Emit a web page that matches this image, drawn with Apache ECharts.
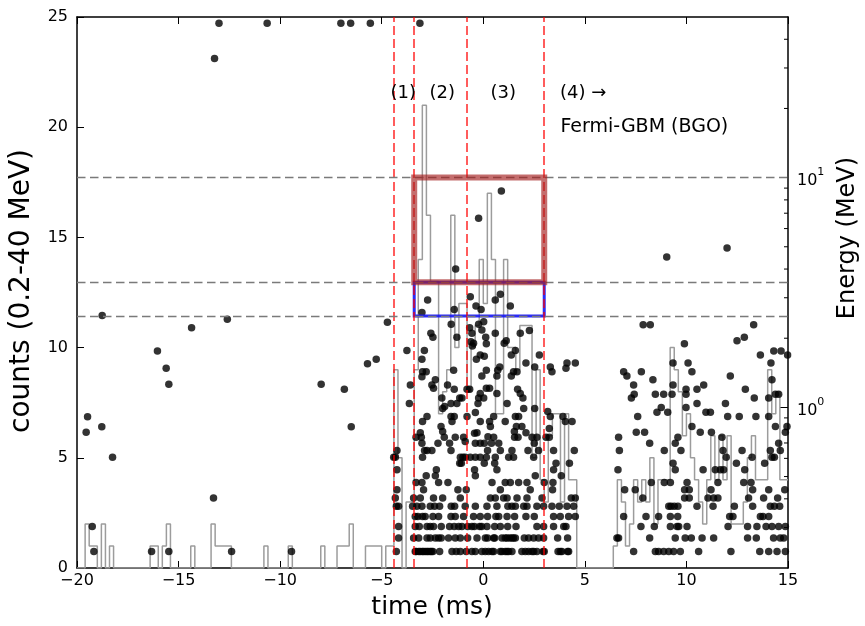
<!DOCTYPE html>
<html><head><meta charset="utf-8">
<script src="https://cdn.jsdelivr.net/npm/echarts/dist/echarts.min.js"></script>
<style>html,body{margin:0;padding:0;background:#fff}#c{width:865px;height:626px}</style>
</head><body><div id="c"></div>
<script>
// ---- data ----
const binStart = -20, binWidth = 0.2;
const histCounts = [
 0,0,2,1,1,0,2,0,1,0,
 0,0,0,0,0,0,0,0,1,1,
 0,1,2,0,0,0,0,0,1,0,
 0,0,0,2,1,1,1,1,0,0,
 0,0,0,0,0,0,1,0,0,0,
 0,0,1,0,0,0,0,0,0,0,
 1,0,0,0,1,1,1,2,0,0,
 0,1,1,1,1,0,1,1,9,5,
 0,3,3,9,14,21,16,13,13,7,
 8,9,16,10,12,12,8,10,11,14,
 12,17,14,7,7,14,10,10,9,11,
 11,11,5,9,4,3,6,7,7,3,
 7,4,4,0,0,0,0,0,0,0,
 0,0,1,4,3,1,2,4,3,4,
 3,5,2,4,4,4,10,9,8,6,
 7,5,4,3,2,4,6,4,6,4,
 6,2,2,2,3,5,6,4,4,4,
 9,7,8,4,4
];
const regionEdges = [-4.4, -3.4, -0.8, 3.0];
const energyLevels = [10, 3.5, 2.5];
const boxTimes = [-3.4, 3.0];
const redBoxEnergy = [3.5, 10];
const blueBoxEnergy = [2.5, 3.5];
const minorTickEnergies = [0.3,0.4,0.5,0.6,0.7,0.8,0.9,2,3,4,5,6,7,8,9,20,30,40];

const labelTexts = ['(1)', '(2)', '(3)', '(4) \u2192', 'Fermi-GBM (BGO)'];
const labelTimes = [-3.94, -2.02, 0.98, 4.92, 7.93];
const labelCounts = [21.55, 21.55, 21.55, 21.55, 20.0];
const labelSizes = [18, 18, 18, 18, 19];

const channelEnergies = [0.236,0.270,0.303,0.335,0.371,0.403,0.438,0.471,0.504,0.535,0.572,0.607,0.649,0.699,0.742];
const channelTimes = [
 [-19.17,-16.33,-15.48,-12.39,-9.44,-4.28,-3.35,-3.30,-3.18,-3.10,-3.0,-2.94,-2.85,-2.77,-2.70,-2.61,-2.55,-2.48,-2.15,-1.54,-1.33,-1.13,-0.84,-0.56,-0.39,-0.07,0.10,0.26,0.43,0.51,0.84,0.92,1.08,1.17,1.25,1.41,1.90,2.07,2.23,2.40,2.48,2.64,2.94,3.0,3.68,3.79,3.87,4.15,4.20,7.40,8.47,8.63,8.88,9.13,9.37,9.70,10.60,12.19,13.61,14.05,14.46,14.87],
 [-4.17,-3.43,-3.18,-2.77,-2.61,-2.36,-2.20,-2.07,-1.71,-1.38,-1.13,-0.77,-0.31,0.10,0.21,0.51,0.56,0.92,1.08,1.17,1.30,1.41,1.49,1.58,2.02,2.23,2.48,2.72,2.97,3.66,4.15,6.58,6.66,8.19,9.45,9.94,10.24,10.77,11.34,13.01,13.44,14.29,14.62,14.79],
 [-19.25,-4.17,-3.35,-3.15,-2.77,-2.61,-2.45,-2.07,-1.66,-1.43,-1.21,-1.05,-0.77,-0.56,-0.44,-0.18,-0.08,0.18,0.56,0.84,1.20,1.61,2.64,2.97,3.46,3.96,4.07,7.76,8.42,9.21,9.54,9.62,10.03,12.05,13.01,13.47,13.92,14.21,14.54,14.87],
 [-3.35,-3.22,-2.99,-2.86,-2.48,-2.20,-1.59,-1.38,-0.97,-0.48,-0.15,0.21,0.62,0.76,1.17,1.54,2.10,2.51,3.46,3.79,4.20,4.53,6.91,8.01,8.63,9.21,9.57,12.13,12.29,13.64,13.77,14.05],
 [-4.28,-4.17,-3.48,-3.27,-3.02,-2.61,-2.40,-2.15,-1.58,-1.41,-0.89,-0.39,0.18,0.67,1.21,1.41,1.58,1.99,2.15,2.64,2.97,3.38,3.74,4.12,4.45,9.13,9.24,9.40,9.58,10.52,11.31,12.36,13.26,14.13,14.33,14.59],
 [-13.28,-4.33,-3.43,-3.10,-2.45,-2.0,-1.13,0.35,0.59,1.0,1.17,1.66,2.15,2.89,4.33,4.53,7.85,9.91,10.14,11.06,11.34,11.55,13.06,13.80,14.49],
 [-4.25,-2.94,-1.25,-0.84,0.84,2.31,3.41,6.96,7.48,9.91,10.14,11.21,13.26,14.05,14.84],
 [-3.31,-3.02,-2.20,-1.74,0.43,1.08,1.33,1.74,2.15,3.0,3.43,8.27,8.91,9.21,10.03,11.55,12.82,13.18],
 [-2.81,-2.36,-0.39,2.56,3.84],
 [-4.25,-2.31,-0.43,0.67,3.46,6.63,9.45,10.82,11.42,11.67,11.83,12.87],
 [-1.16,-1.08,0.05,0.56,3.58,4.24,9.34,12.46,13.85],
 [-18.25,-4.41,-4.33,-2.99,-1.13,-1.0,-0.89,-0.64,-0.39,-0.15,0.15,0.59,1.25,1.49,2.48,11.96,13.23,14.21,14.33],
 [-4.25,-2.89,-2.77,-2.53,-1.59,0.21,0.84,1.41,2.20,2.72,3.46,4.48,6.70,8.91,9.73,11.80,12.74,14.13,14.62],
 [-3.02,-2.23,-1.66,-0.39,-0.15,0.05,0.40,0.76,2.51,8.19,9.45,14.54],
 [-3.31,-3.05,-1.92,-1.38,-0.97,0.51,1.54,1.71,2.40,2.64,3.09,3.25,6.66,9.58,11.75]
];
const otherPoints = [
 [-19.55,0.78],[-19.48,0.91],[-18.76,2.51],[-18.78,0.823],[-16.04,1.76],[-15.61,1.48],[-15.48,1.26],
 [-14.36,2.22],[-12.60,2.42],[-7.98,1.26],[-6.84,1.20],[-6.50,0.823],[-5.70,1.55],[-5.27,1.62],[-4.72,2.35],
 [-13.23,33.0],[-13.01,47],[-10.64,47],[-7.01,47],[-6.53,47],[-5.56,47],[-3.12,47],
 [-3.10,0.776],[2.10,0.776],[1.53,0.785],[-2.0,0.785],[-0.89,0.711],[-0.43,0.772],[-0.31,0.776],[0.23,0.746],
 [-2.77,0.912],[-2.99,0.868],[-2.08,0.826],[-1.59,0.912],[-1.43,0.912],[-1.54,0.868],[-0.80,0.912],[-0.39,0.95],
 [-0.15,0.868],[0.31,0.868],[0.51,0.912],[0.35,0.826],[1.08,0.868],[1.58,0.912],[1.74,0.912],[1.63,0.826],
 [1.90,0.826],[3.30,0.912],[3.92,0.912],[4.04,0.868],[4.37,0.868],[3.17,0.96],[3.25,0.81],
 [-3.64,1.04],[-2.04,1.10],[-1.90,1.01],[-2.0,0.99],[-1.59,1.04],[-1.30,1.04],[-1.16,1.10],[-1.05,1.10],
 [-0.23,1.10],[-0.26,1.04],[0.02,1.10],[1.95,1.10],[1.99,0.99],[1.17,1.04],[2.53,0.99],
 [-3.59,1.25],[-2.36,1.32],[-2.53,1.25],[-2.45,1.21],[-1.76,1.25],[-1.43,1.20],[-0.80,1.20],[-0.67,1.20],
 [0.15,1.21],[0.31,1.21],[-0.15,1.15],[0.67,1.15],[1.69,1.20],[1.82,1.15],
 [-2.99,1.43],[-2.81,1.43],[-3.02,1.36],[-1.46,1.45],[0.15,1.45],[-0.07,1.37],[0.67,1.37],[1.49,1.43],
 [1.66,1.43],[1.38,1.37],[0.71,1.45],[0.81,1.50],[2.53,1.50],[3.30,1.50],[3.38,1.43],[4.07,1.48],[4.12,1.56],
 [4.53,1.56],[2.10,1.56],
 [-3.76,1.77],[-2.90,1.77],[-3.02,1.62],[-0.34,1.62],[-0.15,1.69],[0.05,1.67],[1.58,1.77],[1.38,1.69],[2.76,1.69],
 [-0.61,1.93],[-0.54,1.85],[-0.48,1.90],[0.15,1.89],[1.13,1.95],[1.03,1.90],
 [-2.58,2.10],[-2.48,2.02],[-1.30,2.02],[-0.56,2.10],[-0.07,2.17],[0.12,2.02],[0.59,2.10],[1.82,2.10],[2.27,2.16],
 [0.02,2.36],[-0.23,2.30],[-1.58,2.30],[-0.67,2.22],
 [-3.02,2.59],[-2.74,2.93],[-1.43,2.67],[-0.64,3.03],[-0.36,2.76],[-0.11,2.67],[0.59,2.93],[0.84,3.11],[1.33,2.76],
 [-1.36,4.0],[-0.23,6.65],[0.89,8.74],[9.03,4.51],[12.0,4.94],
 [7.87,2.29],[8.22,2.29],[13.31,2.29],[12.49,1.95],[12.85,2.02],[9.90,1.89],[13.64,1.69],[14.30,1.76],[14.66,1.76],
 [14.98,1.69],[9.34,1.56],[10.08,1.56],[14.16,1.56],[6.91,1.43],[7.07,1.37],[7.78,1.43],[10.27,1.43],[12.16,1.37],
 [14.21,1.32],[8.35,1.32],[7.40,1.25],[9.34,1.25],[10.85,1.25],[10.52,1.20],[9.98,1.20],[12.90,1.20],[7.43,1.14],
 [8.47,1.14],[8.88,1.14],[9.29,1.14],[9.98,1.14],[14.38,1.14],[14.54,1.14],[7.29,1.10],[14.05,1.10],[13.34,1.10],
 [8.76,1.0],[8.55,0.953],[9.08,0.953],[9.98,1.0],[10.52,1.04],[10.96,0.953],[11.18,0.953],[11.92,1.04],[7.60,0.912],
 [12.03,0.912],[12.60,0.912],[13.42,0.912],[14.05,0.912],[10.27,0.826],[14.38,0.826],[14.95,0.826],[7.53,0.78],
 [7.94,0.78],[10.68,0.78],[11.23,0.78],[14.87,0.78]
];

// ---- build ----
const X_MIN = -20, X_MAX = 15;
const histData = histCounts.map((c, i) => [+(binStart + i * binWidth).toFixed(2), c]);
histData.push([+(binStart + histCounts.length * binWidth).toFixed(2), histCounts[histCounts.length - 1]]);

const scatterData = [];
channelEnergies.forEach((e, i) => channelTimes[i].forEach(t => scatterData.push([t, e])));
otherPoints.forEach(p => scatterData.push(p));

function boxPath(tt, ee) {
  return [[tt[0], ee[0]], [tt[1], ee[0]], [tt[1], ee[1]], [tt[0], ee[1]], [tt[0], ee[0]]];
}
const labelData = labelTexts.map((s, i) => ({
  value: [labelTimes[i], labelCounts[i]], name: s,
  label: { fontSize: labelSizes[i] }
}));

const FONT = 'DejaVu Sans';
const chart = echarts.init(document.getElementById('c'), null, { renderer: 'canvas' });
const tickStyle = { show: true, inside: true, length: 7, lineStyle: { color: '#000', width: 1 } };
const lineStyleAxis = { color: '#000', width: 1.5 };
const titleStyle = { fill: '#000', fontFamily: FONT, align: 'center', verticalAlign: 'middle' };

chart.setOption({
  animation: false,
  backgroundColor: '#fff',
  textStyle: { fontFamily: FONT },
  grid: { left: 77, right: 77, top: 17, bottom: 58, containLabel: false, outerBoundsMode: 'none' },
  graphic: [
    { type: 'text', x: 432, y: 607, silent: true,
      style: Object.assign({ text: 'time (ms)', fontSize: 25 }, titleStyle) },
    { type: 'text', x: 22, y: 291, rotation: Math.PI / 2, silent: true,
      style: Object.assign({ text: 'counts (0.2-40 MeV)', fontSize: 28 }, titleStyle) },
    { type: 'text', x: 848, y: 238, rotation: Math.PI / 2, silent: true,
      style: Object.assign({ text: 'Energy (MeV)', fontSize: 24 }, titleStyle) }
  ],
  xAxis: [{
    type: 'value', min: X_MIN, max: X_MAX, interval: 5,
    axisLine: { show: true, onZero: false, lineStyle: lineStyleAxis },
    axisTick: tickStyle, splitLine: { show: false },
    axisLabel: { color: '#000', fontSize: 16, fontFamily: FONT, margin: 5,
      formatter: v => v < 0 ? '\u2212' + Math.abs(v) : String(v) }
  }, {
    type: 'value', position: 'top', min: X_MIN, max: X_MAX, interval: 5,
    axisLine: { show: true, onZero: false, lineStyle: lineStyleAxis },
    axisTick: tickStyle, axisLabel: { show: false }, splitLine: { show: false }
  }],
  yAxis: [{
    type: 'value', min: 0, max: 25, interval: 5, position: 'left',
    axisLine: { show: true, onZero: false, lineStyle: lineStyleAxis },
    axisTick: tickStyle, splitLine: { show: false },
    axisLabel: { color: '#000', fontSize: 16, fontFamily: FONT, margin: 9 }
  }, {
    type: 'log', logBase: 10, min: 0.2, max: 50, position: 'right',
    axisLine: { show: true, onZero: false, lineStyle: lineStyleAxis },
    axisTick: { show: true, inside: true, length: 8, lineStyle: { color: '#000', width: 1 } },
    splitLine: { show: false },
    axisLabel: {
      color: '#000', margin: 9, showMinLabel: false, showMaxLabel: false,
      formatter: v => {
        const l = Math.log10(v), e = Math.round(l);
        if (Math.abs(l - e) > 1e-6) return '';
        return '{b|10}{s|' + e + '}';
      },
      rich: {
        b: { fontSize: 16, fontFamily: FONT, color: '#000', lineHeight: 22, verticalAlign: 'bottom' },
        s: { fontSize: 11, fontFamily: FONT, color: '#000', lineHeight: 22, verticalAlign: 'top' }
      }
    }
  }],
  series: [
    {
      type: 'line', name: 'hist', data: histData, step: 'end', xAxisIndex: 0, yAxisIndex: 0,
      symbol: 'none', lineStyle: { color: '#9c9c9c', width: 1.5 }, z: 2, silent: true,
      markLine: {
        silent: true, symbol: ['none', 'none'], label: { show: false },
        lineStyle: { color: 'rgba(255,0,0,0.85)', type: [9, 4], width: 1.5 },
        data: regionEdges.map(t => ({ xAxis: t }))
      }
    },
    {
      type: 'scatter', name: 'events', data: scatterData, xAxisIndex: 0, yAxisIndex: 1,
      symbolSize: 7.5, itemStyle: { color: 'rgba(0,0,0,0.8)', opacity: 1 }, z: 3, silent: true,
      markLine: {
        silent: true, symbol: ['none', 'none'], label: { show: false },
        lineStyle: { color: '#7a7a7a', type: [8.5, 4.5], width: 1.3 },
        data: energyLevels.map(e => ({ yAxis: e }))
      }
    },
    {
      type: 'line', name: 'blueBox', data: boxPath(boxTimes, blueBoxEnergy), xAxisIndex: 0, yAxisIndex: 1,
      symbol: 'none', lineStyle: { color: 'rgba(20,20,245,0.9)', width: 3, join: 'miter', cap: 'square' }, z: 4, silent: true
    },
    {
      type: 'line', name: 'redBox', data: boxPath(boxTimes, redBoxEnergy), xAxisIndex: 0, yAxisIndex: 1,
      symbol: 'none', lineStyle: { color: 'rgba(165,30,30,0.65)', width: 6, join: 'miter', cap: 'square' }, z: 5, silent: true
    },
    {
      type: 'custom', name: 'minorTicks', xAxisIndex: 0, yAxisIndex: 1, silent: true, z: 6,
      data: minorTickEnergies.map(e => [X_MAX, e]),
      renderItem: (params, api) => {
        const p = api.coord([api.value(0), api.value(1)]);
        return { type: 'line', shape: { x1: p[0] - 4, y1: p[1], x2: p[0], y2: p[1] },
          style: { stroke: '#000', lineWidth: 1 } };
      }
    },
    {
      type: 'scatter', name: 'labels', data: labelData, xAxisIndex: 0, yAxisIndex: 0,
      symbolSize: 0, silent: true, z: 7, itemStyle: { opacity: 1 },
      label: { show: true, position: 'inside', formatter: p => p.name,
        color: '#000', fontSize: 18, fontFamily: FONT, textBorderWidth: 0 }
    }
  ]
});
</script>
</body></html>
